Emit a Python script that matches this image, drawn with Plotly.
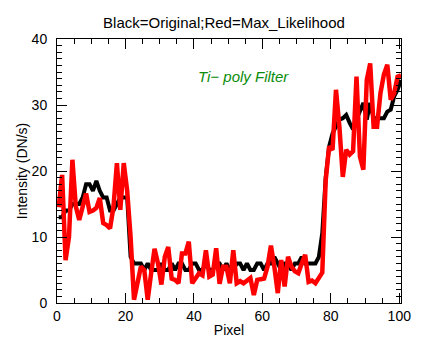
import numpy as np
import plotly.graph_objects as go

# pixel centres along the cut
pixel = np.arange(101) + 0.5

# Black = original intensity (DN/s)
original = [
    13, 13, 14, 14, 15, 15, 15, 16, 18, 18,
    17, 18.5, 17, 16, 16, 14, 14, 15, 16, 16,
    16, 7, 6, 6, 6, 5, 6, 5, 5, 5,
    6, 5, 5, 6, 5, 6, 6, 5, 5, 6,
    6, 5, 5, 6, 5, 5, 6, 6, 5, 6,
    5, 5, 6, 6, 5, 6, 5, 5, 6, 6,
    5, 6, 6, 7, 6, 5, 6, 6, 5, 6,
    6, 7, 6, 6, 6, 6, 7, 10.6, 19, 23.7,
    25.7, 26.7, 27.8, 28, 28.5, 27.3, 26.3, 27.8, 29, 30.3,
    27.8, 30.3, 28, 28, 28, 28, 29, 29.3, 31.3, 32.3,
    33.8,
]

# Red = maximum likelihood reconstruction
max_likelihood = [
    14.5, 19.4, 6.5, 10, 21.7, 14.6, 12.6, 14.5, 16.6, 13.8,
    14, 14.4, 15.9, 12.1, 11.8, 11.3, 14.6, 21.2, 14.1, 21.2,
    17, 10, 0.5, 3, 5.5, 5, 0.5, 4.5, 8.2, 6,
    2.8, 7, 8.5, 3.7, 3.5, 3, 7.5, 7.5, 9.3, 3,
    3.7, 4.5, 4.2, 8, 4, 4.3, 8.3, 2.9, 5.5, 5.5,
    3, 8, 3, 3.3, 3, 3.5, 3.8, 1.2, 3.5, 3.6,
    3.7, 5.5, 8.7, 5.5, 1.5, 6.5, 2.5, 7, 5.5, 4.8,
    4.5, 6, 7.3, 3.2, 3.4, 3, 3.7, 4.6, 18.6, 23.7,
    23.2, 32.3, 26.7, 19.1, 23.2, 22.5, 23, 34.3, 22.2, 20.2,
    33.8, 36.3, 26.7, 26.7, 31.8, 34.6, 36.1, 30.8, 31.8, 34.3,
    34.5,
]

font_family = "Liberation Sans, Arial, Helvetica, sans-serif"

fig = go.Figure()
fig.add_trace(go.Scatter(x=pixel, y=original, mode="lines",
                         line=dict(color="black", width=4), name="Original"))
fig.add_trace(go.Scatter(x=pixel, y=max_likelihood, mode="lines",
                         line=dict(color="red", width=4.5), name="Max_Likelihood"))

fig.add_annotation(text="<i>Ti\u2212 poly Filter</i>", xref="paper", yref="paper",
                   x=(243 - 57) / 344, y=(303 - 66) / 264, showarrow=False,
                   font=dict(color="rgb(10,140,10)", size=15, family=font_family))

axis_common = dict(showline=True, linecolor="black", linewidth=1, mirror="ticks",
                   ticks="inside", tickcolor="black", ticklen=10, tickwidth=1,
                   showgrid=False, zeroline=False,
                   tickfont=dict(size=14, color="black", family=font_family))

fig.update_xaxes(range=[0, 100.5], dtick=20, tick0=0,
                 minor=dict(ticks="inside", ticklen=5, dtick=5, tickcolor="black", showgrid=False),
                 title=dict(text="Pixel", standoff=2, font=dict(size=14, family=font_family)),
                 **axis_common)
fig.update_yaxes(range=[0, 40], dtick=10, tick0=0,
                 minor=dict(ticks="inside", ticklen=5, dtick=1, tickcolor="black", showgrid=False),
                 title=dict(text="Intensity (DN/s)", standoff=0, font=dict(size=14, family=font_family)),
                 ticklabelstandoff=6,
                 **axis_common)

# the page body adds an 8px offset, so margins are shifted up/left by 8px
fig.update_layout(
    width=436, height=349,
    margin=dict(l=49, r=43, t=31, b=54),
    paper_bgcolor="white", plot_bgcolor="white",
    showlegend=False,
    font=dict(family=font_family, color="black"),
    title=dict(text="Black=Original;Red=Max_Likelihood", x=216 / 436, xanchor="center",
               y=1 - 15 / 349, yanchor="middle", font=dict(size=15, family=font_family)),
)

fig.write_html("out.html")
